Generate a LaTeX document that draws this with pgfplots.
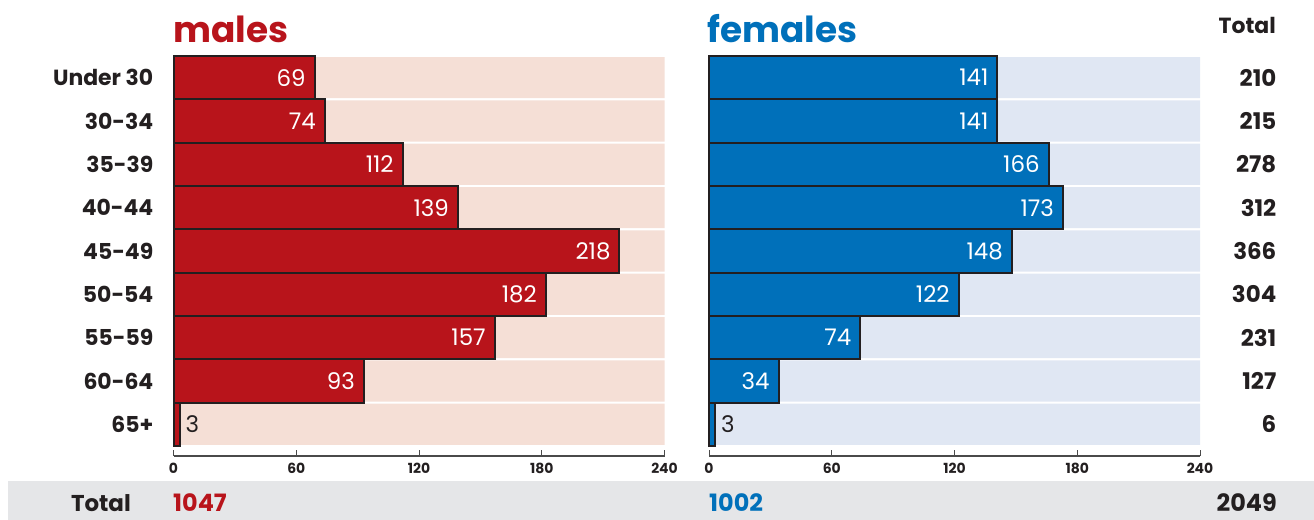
\documentclass[border=0pt]{standalone}
\usepackage{pgfplots}
\pgfplotsset{compat=1.18}
\usepackage{fontspec}
\setmainfont{Poppins}
\definecolor{mred}{HTML}{B8141B}
\definecolor{mbg}{HTML}{F5DFD6}
\definecolor{fblue}{HTML}{0070BA}
\definecolor{fbg}{HTML}{E0E7F3}
\definecolor{graybg}{HTML}{E5E6E8}
\definecolor{darktext}{HTML}{231F20}
\definecolor{axisgray}{HTML}{4A4A4A}
\pgfplotsset{
  pyr/.style={
    scale only axis, width=491bp, height=400bp, anchor=south west,
    xmin=0, xmax=240, ymin=-0.7308, ymax=8.5, clip=false,
    axis x line*=bottom,
    x axis line style={draw=axisgray, line width=1.2bp, -},
    xtick={0,60,120,180,240}, tick align=inside, major tick length=6bp,
    xtick style={draw=axisgray, line width=1bp},
    xticklabel style={font=\fontsize{14}{14}\selectfont\bfseries, text=darktext, inner sep=0pt, yshift=-7bp},
    ytick={0,...,8},
    y axis line style={draw=none}, ytick style={draw=none},
    /pgf/number format/assume math mode=true,
    /pgf/number format/1000 sep={},
  },
  valin/.style={nodes near coords, point meta=x,
    nodes near coords style={anchor=east, text=white, inner sep=0pt, xshift=-8bp, font=\fontsize{23}{23}\selectfont}},
  valout/.style={nodes near coords, point meta=x,
    nodes near coords style={anchor=west, text=darktext, inner sep=0pt, xshift=5bp, font=\fontsize{23}{23}\selectfont}},
}
\begin{document}
\begin{tikzpicture}
\useasboundingbox (0,0) rectangle (1314bp,520bp);
\fill[graybg] (8bp,0) rectangle (1314bp,39bp);
% males
\begin{axis}[pyr, at={(173.5bp,64bp)},
  axis y line*=left,
  yticklabels={65+,60-64,55-59,50-54,45-49,40-44,35-39,30-34,Under 30},
  yticklabel style={font=\fontsize{22}{22}\selectfont\bfseries, text=darktext, anchor=east, inner sep=0pt, xshift=-20bp},
]
\addplot[xbar, bar width=0.95, bar shift=0pt, fill=mbg, draw=none]
  coordinates {(240,0) (240,1) (240,2) (240,3) (240,4) (240,5) (240,6) (240,7) (240,8)};
\addplot[xbar, bar width=1, bar shift=0pt, fill=mred, draw=darktext, line width=2bp, valin]
  coordinates {(69,8) (74,7) (112,6) (139,5) (218,4) (182,3) (157,2) (93,1)};
\addplot[xbar, bar width=1, bar shift=0pt, fill=mred, draw=darktext, line width=2bp, valout]
  coordinates {(3,0)};
\end{axis}
% females
\begin{axis}[pyr, at={(709bp,64bp)},
  axis y line*=right,
  yticklabels={6,127,231,304,366,312,278,215,210},
  yticklabel style={font=\fontsize{23}{23}\selectfont\bfseries, text=darktext, anchor=east, inner sep=0pt, xshift=76.5bp},
]
\addplot[xbar, bar width=0.95, bar shift=0pt, fill=fbg, draw=none]
  coordinates {(240,0) (240,1) (240,2) (240,3) (240,4) (240,5) (240,6) (240,7) (240,8)};
\addplot[xbar, bar width=1, bar shift=0pt, fill=fblue, draw=darktext, line width=2bp, valin]
  coordinates {(141,8) (141,7) (166,6) (173,5) (148,4) (122,3) (74,2) (34,1)};
\addplot[xbar, bar width=1, bar shift=0pt, fill=fblue, draw=darktext, line width=2bp, valout]
  coordinates {(3,0)};
\end{axis}
% titles
\node[anchor=base west, inner sep=0pt, text=mred, font=\fontsize{36}{36}\selectfont\bfseries] at (173bp,477bp) {males};
\node[anchor=base west, inner sep=0pt, text=fblue, font=\fontsize{36}{36}\selectfont\bfseries] at (707bp,477bp) {females};
\node[anchor=base east, inner sep=0pt, text=darktext, font=\fontsize{22}{22}\selectfont\bfseries] at (1276bp,486bp) {Total};
% bottom totals
\node[anchor=base east, inner sep=0pt, text=darktext, font=\fontsize{23}{23}\selectfont\bfseries] at (131bp,9bp) {Total};
\node[anchor=base west, inner sep=0pt, text=mred, font=\fontsize{24}{24}\selectfont\bfseries] at (173bp,9bp) {1047};
\node[anchor=base west, inner sep=0pt, text=fblue, font=\fontsize{24}{24}\selectfont\bfseries] at (709bp,9bp) {1002};
\node[anchor=base east, inner sep=0pt, text=darktext, font=\fontsize{24}{24}\selectfont\bfseries] at (1277bp,9bp) {2049};
\end{tikzpicture}
\end{document}
